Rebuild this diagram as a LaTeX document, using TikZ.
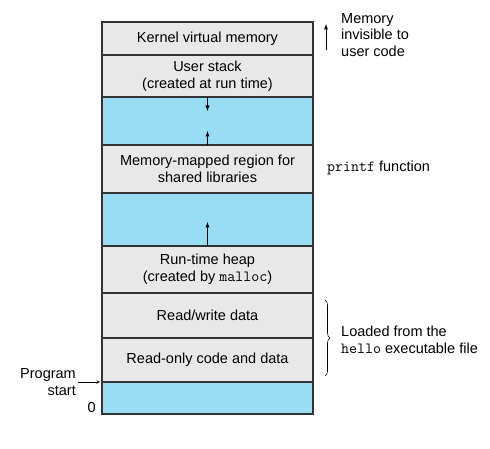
\documentclass[tikz,border=0pt]{standalone}
\usepackage{fontspec}
\setmainfont{Liberation Sans}
\usetikzlibrary{arrows,positioning,decorations.pathreplacing}
\definecolor{segfill}{HTML}{E8E8E8}
\definecolor{gapfill}{HTML}{99DDF5}
\definecolor{segline}{HTML}{333333}
\newcommand{\code}[1]{{\fontsize{15.5}{16.5}\selectfont\texttt{#1}}}

\begin{document}
\begin{tikzpicture}[x=1pt,y=1pt,node distance=0pt,font=\fontsize{14.5}{16.5}\selectfont]
\tikzstyle{seg}=[draw=segline,line width=1.3pt,fill=segfill,minimum width=211pt,inner sep=0pt,outer sep=0pt,align=center]
\tikzstyle{gap}=[seg,fill=gapfill]
\tikzstyle{note}=[inner sep=0pt,align=left]
\tikzstyle{growarrow}=[-latex,line width=0.9pt]
\useasboundingbox (0,0) rectangle (490,-449);
% the address space, top to bottom
\node[seg,minimum height=33pt,anchor=north west] (kernel) at (102,-22) {Kernel virtual memory};
\node[seg,minimum height=42pt,below=of kernel] (stack) {User stack\\(created at run time)};
\node[gap,minimum height=48pt,below=of stack] (gap1) {};
\node[seg,minimum height=48pt,below=of gap1] (mmap) {Memory-mapped region for\\shared libraries};
\node[gap,minimum height=53pt,below=of mmap] (gap2) {};
\node[seg,minimum height=47pt,below=of gap2] (heap) {Run-time heap\\(created by \code{malloc})};
\node[seg,minimum height=45pt,below=of heap] (rwdata) {Read/write data};
\node[seg,minimum height=44pt,below=of rwdata] (rocode) {Read-only code and data};
\node[gap,minimum height=32pt,below=of rocode] (unused) {};
% growth arrows
\draw[growarrow] (gap1.north) -- ++(0,-14);
\draw[growarrow] (mmap.north) -- ++(0,14);
\draw[growarrow] (heap.north) -- ++(0,24);
% labels on the right
\node[note,anchor=north west] (hidden) at (341,-13) {Memory\\invisible to\\user code};
\coordinate (hidlow) at (326,-50);
\coordinate (hidtop) at (326,-24);
\draw[growarrow] (hidlow) -- (hidtop);
\node[note,anchor=west] (printf) at (327,-168) {\code{printf} function};
\coordinate (bracetop) at (325,-300);
\coordinate (bracebot) at (325,-376);
\draw[line width=0.6pt,decorate,decoration={brace,amplitude=5pt}] (bracetop) -- (bracebot);
\node[note,anchor=west] (loaded) at (341,-340) {Loaded from the\\\code{hello} executable file};
% labels on the left
\node[note,align=right,anchor=east] (progstart) at (76,-382) {Program\\start};
\draw[-stealth,line width=0.6pt] ([xshift=2pt]progstart.east) -- ([xshift=-2pt]rocode.south west);
\node[note,anchor=east] (zero) at (96,-408) {0};
\end{tikzpicture}
\end{document}
